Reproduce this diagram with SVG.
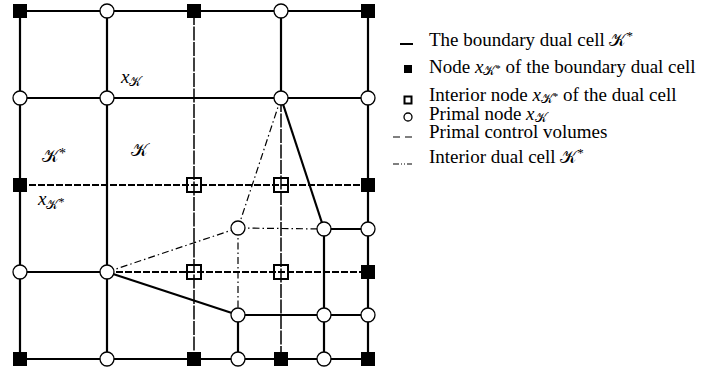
<svg xmlns="http://www.w3.org/2000/svg" width="708" height="371" viewBox="0 0 708 371">
<style>
.s{stroke:#000;stroke-width:2.2;fill:none}
.d{stroke:#000;stroke-width:2;fill:none;stroke-dasharray:7 2}
.v{stroke:#000;stroke-width:1.5;fill:none;stroke-dasharray:14 1.5}
.dd{stroke:#000;stroke-width:1.2;fill:none;stroke-dasharray:7 3 1.5 3}
.c{fill:#fff;stroke:#000;stroke-width:1.3}
.f{fill:#000}
.o{fill:none;stroke:#000;stroke-width:2}
.t{font-family:"Liberation Serif",serif;font-size:19px;fill:#000}
.m{font-family:"Liberation Serif",serif;font-style:italic;font-size:19px;fill:#000}
.k{font-family:"Liberation Serif",serif;font-style:normal;font-size:18px}
.sub{font-family:"Liberation Serif",serif;font-style:normal;font-size:13px}
</style>
<rect width="708" height="371" fill="#fff"/>
<g id="connectors">
<line class="v" x1="194" y1="11" x2="194" y2="359"/>
<line class="v" x1="281" y1="98" x2="281" y2="359"/>
<line class="d" x1="20" y1="185" x2="368" y2="185"/>
<line class="d" x1="107" y1="272" x2="368" y2="272"/>
<line class="s" x1="20" y1="11" x2="368" y2="11"/>
<line class="s" x1="20" y1="98" x2="368" y2="98"/>
<line class="s" x1="20" y1="272" x2="107" y2="272"/>
<line class="s" x1="20" y1="359" x2="368" y2="359"/>
<line class="s" x1="20" y1="11" x2="20" y2="359"/>
<line class="s" x1="107" y1="11" x2="107" y2="359"/>
<line class="s" x1="368" y1="11" x2="368" y2="359"/>
<line class="s" x1="281" y1="11" x2="281" y2="98"/>
<line class="s" x1="281" y1="98" x2="324" y2="229"/>
<line class="s" x1="107" y1="272" x2="238" y2="315"/>
<line class="s" x1="324" y1="229" x2="368" y2="229"/>
<line class="s" x1="238" y1="315" x2="368" y2="315"/>
<line class="s" x1="324" y1="229" x2="324" y2="359"/>
<line class="s" x1="238" y1="315" x2="238" y2="359"/>
<line class="dd" x1="281" y1="98" x2="238" y2="228"/>
<line class="dd" x1="107" y1="272" x2="238" y2="228"/>
<line class="dd" x1="238" y1="228" x2="324" y2="229"/>
<line class="dd" x1="238" y1="228" x2="238" y2="315"/>
</g>
<g id="boundary-nodes">
<rect id="b1" class="f" x="13" y="4" width="14" height="14"/>
<rect id="b2" class="f" x="187" y="4" width="14" height="14"/>
<rect id="b3" class="f" x="361" y="4" width="14" height="14"/>
<rect id="b4" class="f" x="13" y="178" width="14" height="14"/>
<rect id="b5" class="f" x="361" y="178" width="14" height="14"/>
<rect id="b6" class="f" x="361" y="265" width="14" height="14"/>
<rect id="b7" class="f" x="13" y="352" width="14" height="14"/>
<rect id="b8" class="f" x="187" y="352" width="14" height="14"/>
<rect id="b9" class="f" x="274" y="352" width="14" height="14"/>
<rect id="b10" class="f" x="361" y="352" width="14" height="14"/>
</g>
<g id="interior-nodes">
<rect id="i1" class="o" x="187" y="178" width="14" height="14"/>
<rect id="i2" class="o" x="274" y="178" width="14" height="14"/>
<rect id="i3" class="o" x="187" y="265" width="14" height="14"/>
<rect id="i4" class="o" x="274" y="265" width="14" height="14"/>
</g>
<g id="primal-nodes">
<circle id="p1" class="c" cx="107" cy="11" r="7"/>
<circle id="p2" class="c" cx="281" cy="11" r="7"/>
<circle id="p3" class="c" cx="20" cy="98" r="7"/>
<circle id="p4" class="c" cx="107" cy="98" r="7"/>
<circle id="p5" class="c" cx="281" cy="98" r="7"/>
<circle id="p6" class="c" cx="368" cy="98" r="7"/>
<circle id="p7" class="c" cx="238" cy="228" r="7"/>
<circle id="p8" class="c" cx="324" cy="229" r="7"/>
<circle id="p9" class="c" cx="368" cy="229" r="7"/>
<circle id="p10" class="c" cx="20" cy="272" r="7"/>
<circle id="p11" class="c" cx="107" cy="272" r="7"/>
<circle id="p12" class="c" cx="238" cy="315" r="7"/>
<circle id="p13" class="c" cx="324" cy="315" r="7"/>
<circle id="p14" class="c" cx="368" cy="315" r="7"/>
<circle id="p15" class="c" cx="107" cy="359" r="7"/>
<circle id="p16" class="c" cx="238" cy="359" r="7"/>
<circle id="p17" class="c" cx="324" cy="359" r="7"/>
</g>
<g id="labels">
<text class="m" x="121" y="83">x<tspan class="sub" dy="3">𝒦</tspan></text>
<text class="m" x="42" y="162"><tspan class="k">𝒦</tspan><tspan font-style="normal" font-size="14" dy="-4">*</tspan></text>
<text class="m" x="131" y="156"><tspan class="k">𝒦</tspan></text>
<text class="m" x="38" y="205">x<tspan class="sub" dy="4">𝒦</tspan><tspan font-style="normal" font-size="12" dy="-3">*</tspan></text>
</g>
<g id="legend">
<line x1="400" y1="44" x2="413" y2="44" stroke="#000" stroke-width="2"/>
<text class="t" x="429" y="46">The boundary dual cell <tspan class="k">𝒦</tspan><tspan font-size="13" dy="-6">*</tspan></text>
<rect class="f" x="404" y="65" width="8" height="8"/>
<text class="t" x="429" y="73">Node <tspan font-style="italic">x</tspan><tspan class="sub" dy="2">𝒦</tspan><tspan font-size="11" dy="-3">*</tspan><tspan dy="1">  of the boundary dual cell</tspan></text>
<rect x="404.5" y="96.5" width="7" height="7" fill="none" stroke="#000" stroke-width="2"/>
<text class="t" x="429" y="101">Interior node <tspan font-style="italic">x</tspan><tspan class="sub" dy="2">𝒦</tspan><tspan font-size="11" dy="-3">*</tspan><tspan dy="1">  of the dual cell</tspan></text>
<circle cx="408" cy="117" r="4" fill="none" stroke="#000" stroke-width="1.3"/>
<text class="t" x="429" y="120">Primal node <tspan font-style="italic">x</tspan><tspan class="sub" dy="2">𝒦</tspan></text>
<line x1="393" y1="137" x2="412" y2="137" stroke="#000" stroke-width="1.2" stroke-dasharray="7 5"/>
<text class="t" x="429" y="138">Primal control volumes</text>
<line x1="393" y1="164" x2="412" y2="164" stroke="#000" stroke-width="1.2" stroke-dasharray="6 2 1 2 1 2 6"/>
<text class="t" x="429" y="163">Interior dual cell <tspan class="k">𝒦</tspan><tspan font-size="13" dy="-6">*</tspan></text>
</g>
</svg>
